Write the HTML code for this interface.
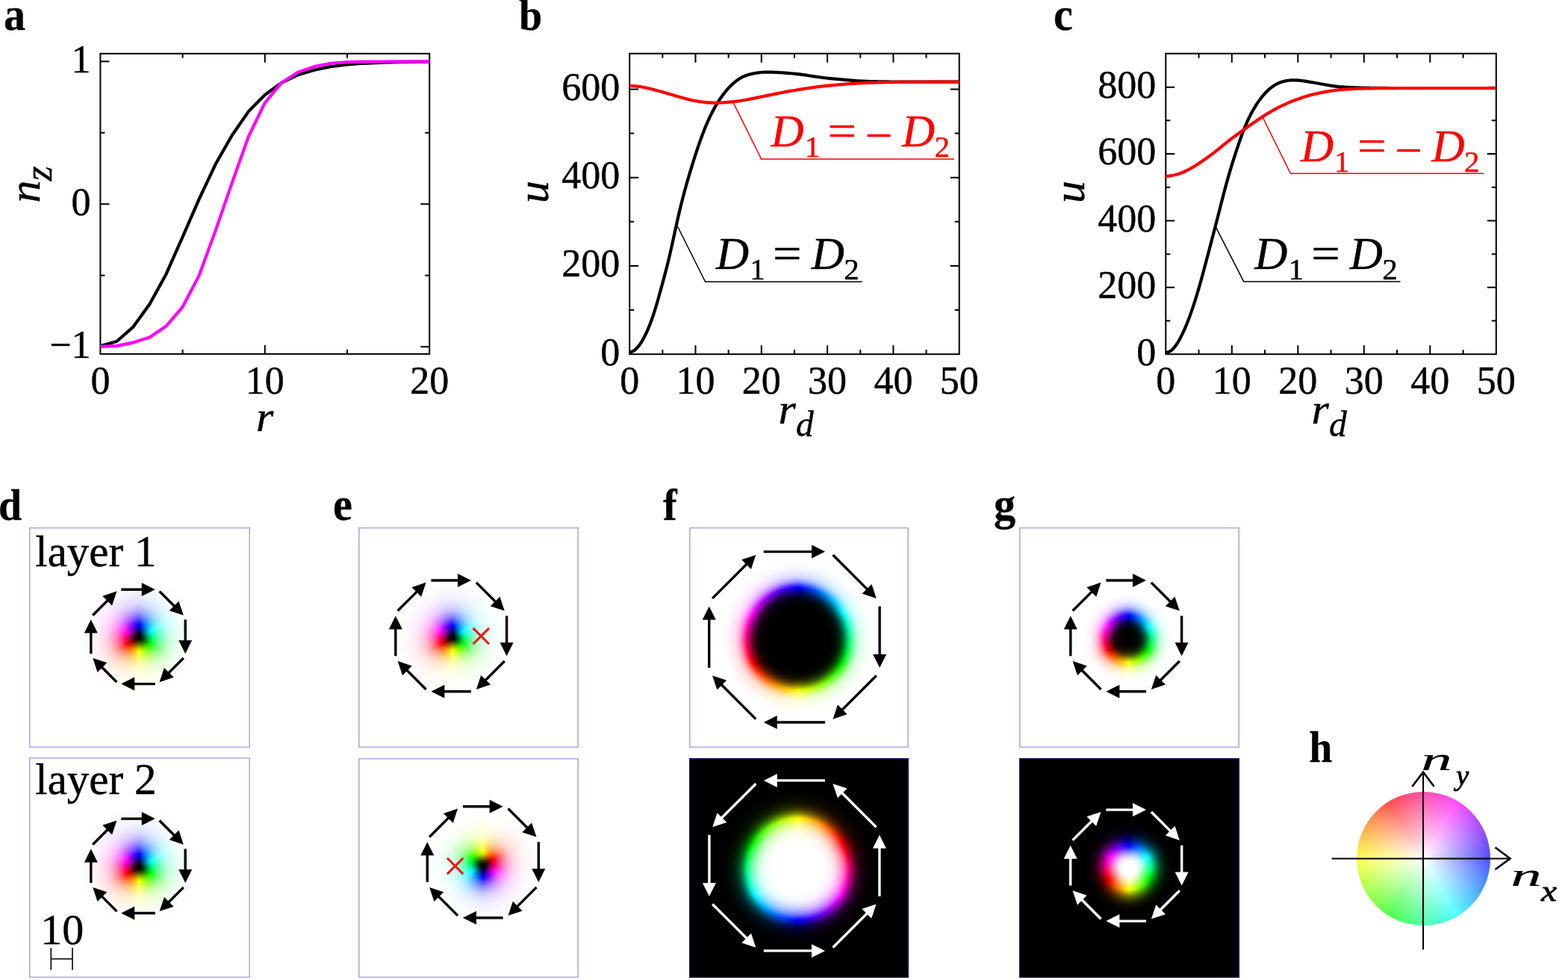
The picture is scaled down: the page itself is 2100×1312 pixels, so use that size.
<!DOCTYPE html>
<html lang="en">
<head>
<meta charset="utf-8">
<title>Figure</title>
<style>
html,body{margin:0;padding:0;background:#fff;}
body{width:2100px;height:1312px;position:relative;overflow:hidden;font-family:'Liberation Serif','DejaVu Serif',serif;}
#g div{position:absolute;}
#g .bx{overflow:hidden;}
svg{position:absolute;left:0;top:0;}
svg text{font-family:'Liberation Serif','DejaVu Serif',serif;stroke-linejoin:round;}
</style>
</head>
<body>
<div id="g">
<div class="bx" style="left:39.3px;top:706.1px;width:295.7px;height:294.6px;background:#fff"><div style="left:0;top:0;width:100%;height:100%;background:radial-gradient(circle at 147px 147.5px,rgba(0,0,0,1) 0px,rgba(0,0,0,0.95) 2.73px,rgba(0,0,0,0.8) 5.47px,rgba(0,0,0,0.61) 8.2px,rgba(0,0,0,0.42) 10.93px,rgba(0,0,0,0.24) 13.67px,rgba(0,0,0,0.08) 16.4px,rgba(255,255,255,0.06) 19.13px,rgba(255,255,255,0.19) 21.87px,rgba(255,255,255,0.31) 24.6px,rgba(255,255,255,0.41) 27.33px,rgba(255,255,255,0.51) 30.07px,rgba(255,255,255,0.59) 32.8px,rgba(255,255,255,0.66) 35.53px,rgba(255,255,255,0.73) 38.27px,rgba(255,255,255,0.78) 41px,rgba(255,255,255,0.82) 43.73px,rgba(255,255,255,0.86) 46.47px,rgba(255,255,255,0.88) 49.2px,rgba(255,255,255,0.9) 51.93px,rgba(255,255,255,0.92) 54.67px,rgba(255,255,255,0.94) 57.4px,rgba(255,255,255,0.95) 60.13px,rgba(255,255,255,0.96) 62.87px,rgba(255,255,255,0.97) 65.6px,rgba(255,255,255,0.98) 68.33px,rgba(255,255,255,0.98) 71.07px,rgba(255,255,255,0.99) 73.8px,rgba(255,255,255,0.99) 76.53px,rgba(255,255,255,1) 79.27px,rgba(255,255,255,1) 82px),conic-gradient(from 0deg at 147px 147.5px,#00f,#0ff,#0f0,#ff0,#f00,#f0f,#00f)"></div><div style="left:0;top:0;width:100%;height:100%;box-shadow:inset 0 0 0 1.6px #aca8ea"></div></div>
<div class="bx" style="left:39.3px;top:1014.4px;width:295.7px;height:294.5px;background:#fff"><div style="left:0;top:0;width:100%;height:100%;background:radial-gradient(circle at 147px 147.2px,rgba(0,0,0,1) 0px,rgba(0,0,0,0.95) 2.73px,rgba(0,0,0,0.8) 5.47px,rgba(0,0,0,0.61) 8.2px,rgba(0,0,0,0.42) 10.93px,rgba(0,0,0,0.24) 13.67px,rgba(0,0,0,0.08) 16.4px,rgba(255,255,255,0.06) 19.13px,rgba(255,255,255,0.19) 21.87px,rgba(255,255,255,0.31) 24.6px,rgba(255,255,255,0.41) 27.33px,rgba(255,255,255,0.51) 30.07px,rgba(255,255,255,0.59) 32.8px,rgba(255,255,255,0.66) 35.53px,rgba(255,255,255,0.73) 38.27px,rgba(255,255,255,0.78) 41px,rgba(255,255,255,0.82) 43.73px,rgba(255,255,255,0.86) 46.47px,rgba(255,255,255,0.88) 49.2px,rgba(255,255,255,0.9) 51.93px,rgba(255,255,255,0.92) 54.67px,rgba(255,255,255,0.94) 57.4px,rgba(255,255,255,0.95) 60.13px,rgba(255,255,255,0.96) 62.87px,rgba(255,255,255,0.97) 65.6px,rgba(255,255,255,0.98) 68.33px,rgba(255,255,255,0.98) 71.07px,rgba(255,255,255,0.99) 73.8px,rgba(255,255,255,0.99) 76.53px,rgba(255,255,255,1) 79.27px,rgba(255,255,255,1) 82px),conic-gradient(from 0deg at 147px 147.2px,#00f,#0ff,#0f0,#ff0,#f00,#f0f,#00f)"></div><div style="left:0;top:0;width:100%;height:100%;box-shadow:inset 0 0 0 1.6px #aca8ea"></div></div>
<div class="bx" style="left:480px;top:706.4px;width:295.2px;height:294.9px;background:#fff"><div style="left:0;top:0;width:100%;height:100%;background:radial-gradient(circle at 125.8px 147.8px,rgba(0,0,0,1) 0px,rgba(0,0,0,0.95) 2.54px,rgba(0,0,0,0.8) 5.08px,rgba(0,0,0,0.61) 7.63px,rgba(0,0,0,0.42) 10.17px,rgba(0,0,0,0.24) 12.71px,rgba(0,0,0,0.08) 15.25px,rgba(255,255,255,0.06) 17.79px,rgba(255,255,255,0.19) 20.34px,rgba(255,255,255,0.31) 22.88px,rgba(255,255,255,0.41) 25.42px,rgba(255,255,255,0.51) 27.96px,rgba(255,255,255,0.59) 30.5px,rgba(255,255,255,0.66) 33.05px,rgba(255,255,255,0.73) 35.59px,rgba(255,255,255,0.78) 38.13px,rgba(255,255,255,0.82) 40.67px,rgba(255,255,255,0.86) 43.21px,rgba(255,255,255,0.88) 45.76px,rgba(255,255,255,0.9) 48.3px,rgba(255,255,255,0.92) 50.84px,rgba(255,255,255,0.94) 53.38px,rgba(255,255,255,0.95) 55.92px,rgba(255,255,255,0.96) 58.47px,rgba(255,255,255,0.97) 61.01px,rgba(255,255,255,0.98) 63.55px,rgba(255,255,255,0.98) 66.09px,rgba(255,255,255,0.99) 68.63px,rgba(255,255,255,0.99) 71.18px,rgba(255,255,255,1) 73.72px,rgba(255,255,255,1) 76.26px),conic-gradient(from 0deg at 125.8px 147.8px,#00f,#0ff,#0f0,#ff0,#f00,#f0f,#00f)"></div><div style="left:0;top:0;width:100%;height:100%;box-shadow:inset 0 0 0 1.6px #aca8ea"></div></div>
<div class="bx" style="left:480.2px;top:1014.7px;width:295.2px;height:294.2px;background:#fff"><div style="left:0;top:0;width:100%;height:100%;background:radial-gradient(circle at 166.7px 143.3px,rgba(0,0,0,1) 0px,rgba(0,0,0,0.95) 2.54px,rgba(0,0,0,0.8) 5.08px,rgba(0,0,0,0.61) 7.63px,rgba(0,0,0,0.42) 10.17px,rgba(0,0,0,0.24) 12.71px,rgba(0,0,0,0.08) 15.25px,rgba(255,255,255,0.06) 17.79px,rgba(255,255,255,0.19) 20.34px,rgba(255,255,255,0.31) 22.88px,rgba(255,255,255,0.41) 25.42px,rgba(255,255,255,0.51) 27.96px,rgba(255,255,255,0.59) 30.5px,rgba(255,255,255,0.66) 33.05px,rgba(255,255,255,0.73) 35.59px,rgba(255,255,255,0.78) 38.13px,rgba(255,255,255,0.82) 40.67px,rgba(255,255,255,0.86) 43.21px,rgba(255,255,255,0.88) 45.76px,rgba(255,255,255,0.9) 48.3px,rgba(255,255,255,0.92) 50.84px,rgba(255,255,255,0.94) 53.38px,rgba(255,255,255,0.95) 55.92px,rgba(255,255,255,0.96) 58.47px,rgba(255,255,255,0.97) 61.01px,rgba(255,255,255,0.98) 63.55px,rgba(255,255,255,0.98) 66.09px,rgba(255,255,255,0.99) 68.63px,rgba(255,255,255,0.99) 71.18px,rgba(255,255,255,1) 73.72px,rgba(255,255,255,1) 76.26px),conic-gradient(from 180deg at 166.7px 143.3px,#00f,#0ff,#0f0,#ff0,#f00,#f0f,#00f)"></div><div style="left:0;top:0;width:100%;height:100%;box-shadow:inset 0 0 0 1.6px #aca8ea"></div></div>
<div class="bx" style="left:923px;top:706.1px;width:293.7px;height:294.9px;background:#fff"><div style="left:0;top:0;width:100%;height:100%;background:radial-gradient(circle at 145.6px 149.1px,rgba(0,0,0,1) 0px,rgba(0,0,0,1) 3.6px,rgba(0,0,0,1) 7.2px,rgba(0,0,0,1) 10.8px,rgba(0,0,0,1) 14.4px,rgba(0,0,0,1) 18px,rgba(0,0,0,1) 21.6px,rgba(0,0,0,1) 25.2px,rgba(0,0,0,1) 28.8px,rgba(0,0,0,1) 32.4px,rgba(0,0,0,1) 36px,rgba(0,0,0,1) 39.6px,rgba(0,0,0,1) 43.2px,rgba(0,0,0,0.98) 46.8px,rgba(0,0,0,0.95) 50.4px,rgba(0,0,0,0.89) 54px,rgba(0,0,0,0.77) 57.6px,rgba(0,0,0,0.58) 61.2px,rgba(0,0,0,0.33) 64.8px,rgba(0,0,0,0.05) 68.4px,rgba(255,255,255,0.24) 72px,rgba(255,255,255,0.52) 75.6px,rgba(255,255,255,0.71) 79.2px,rgba(255,255,255,0.83) 82.8px,rgba(255,255,255,0.89) 86.4px,rgba(255,255,255,0.93) 90px,rgba(255,255,255,0.96) 93.6px,rgba(255,255,255,0.98) 97.2px,rgba(255,255,255,0.99) 100.8px,rgba(255,255,255,1) 104.4px,rgba(255,255,255,1) 108px),conic-gradient(from 0deg at 145.6px 149.1px,#00f,#0ff,#0f0,#ff0,#f00,#f0f,#00f)"></div><div style="left:0;top:0;width:100%;height:100%;box-shadow:inset 0 0 0 1.6px #aca8ea"></div></div>
<div class="bx" style="left:923px;top:1014.7px;width:293.8px;height:294.1px;background:#000"><div style="left:0;top:0;width:100%;height:100%;background:radial-gradient(circle at 145.5px 148.3px,rgba(255,255,255,1) 0px,rgba(255,255,255,1) 3.6px,rgba(255,255,255,1) 7.2px,rgba(255,255,255,1) 10.8px,rgba(255,255,255,1) 14.4px,rgba(255,255,255,1) 18px,rgba(255,255,255,1) 21.6px,rgba(255,255,255,1) 25.2px,rgba(255,255,255,1) 28.8px,rgba(255,255,255,1) 32.4px,rgba(255,255,255,0.99) 36px,rgba(255,255,255,0.97) 39.6px,rgba(255,255,255,0.95) 43.2px,rgba(255,255,255,0.9) 46.8px,rgba(255,255,255,0.83) 50.4px,rgba(255,255,255,0.73) 54px,rgba(255,255,255,0.6) 57.6px,rgba(255,255,255,0.44) 61.2px,rgba(255,255,255,0.21) 64.8px,rgba(0,0,0,0.05) 68.4px,rgba(0,0,0,0.33) 72px,rgba(0,0,0,0.57) 75.6px,rgba(0,0,0,0.73) 79.2px,rgba(0,0,0,0.84) 82.8px,rgba(0,0,0,0.9) 86.4px,rgba(0,0,0,0.94) 90px,rgba(0,0,0,0.96) 93.6px,rgba(0,0,0,0.98) 97.2px,rgba(0,0,0,0.99) 100.8px,rgba(0,0,0,1) 104.4px,rgba(0,0,0,1) 108px),conic-gradient(from 180deg at 145.5px 148.3px,#00f,#0ff,#0f0,#ff0,#f00,#f0f,#00f)"></div><div style="left:0;top:0;width:100%;height:100%;box-shadow:inset 0 0 0 1.6px #150c52"></div></div>
<div class="bx" style="left:1364.8px;top:706.3px;width:295px;height:294.9px;background:#fff"><div style="left:0;top:0;width:100%;height:100%;background:radial-gradient(circle at 146px 149.3px,rgba(0,0,0,1) 0px,rgba(0,0,0,1) 2.07px,rgba(0,0,0,1) 4.13px,rgba(0,0,0,0.99) 6.2px,rgba(0,0,0,0.99) 8.27px,rgba(0,0,0,0.98) 10.33px,rgba(0,0,0,0.96) 12.4px,rgba(0,0,0,0.93) 14.47px,rgba(0,0,0,0.89) 16.53px,rgba(0,0,0,0.82) 18.6px,rgba(0,0,0,0.74) 20.67px,rgba(0,0,0,0.62) 22.73px,rgba(0,0,0,0.47) 24.8px,rgba(0,0,0,0.32) 26.87px,rgba(0,0,0,0.16) 28.93px,rgba(0,0,0,0.03) 31px,rgba(255,255,255,0.12) 33.07px,rgba(255,255,255,0.27) 35.13px,rgba(255,255,255,0.42) 37.2px,rgba(255,255,255,0.56) 39.27px,rgba(255,255,255,0.67) 41.33px,rgba(255,255,255,0.75) 43.4px,rgba(255,255,255,0.82) 45.47px,rgba(255,255,255,0.87) 47.53px,rgba(255,255,255,0.91) 49.6px,rgba(255,255,255,0.94) 51.67px,rgba(255,255,255,0.96) 53.73px,rgba(255,255,255,0.97) 55.8px,rgba(255,255,255,0.99) 57.87px,rgba(255,255,255,1) 59.93px,rgba(255,255,255,1) 62px),conic-gradient(from 0deg at 146px 149.3px,#00f,#0ff,#0f0,#ff0,#f00,#f0f,#00f)"></div><div style="left:0;top:0;width:100%;height:100%;box-shadow:inset 0 0 0 1.6px #aca8ea"></div></div>
<div class="bx" style="left:1365.2px;top:1014.7px;width:294.4px;height:294.1px;background:#000"><div style="left:0;top:0;width:100%;height:100%;background:radial-gradient(circle at 146.8px 146.9px,rgba(255,255,255,1) 0px,rgba(255,255,255,1) 2.07px,rgba(255,255,255,1) 4.13px,rgba(255,255,255,1) 6.2px,rgba(255,255,255,1) 8.27px,rgba(255,255,255,0.97) 10.33px,rgba(255,255,255,0.91) 12.4px,rgba(255,255,255,0.84) 14.47px,rgba(255,255,255,0.75) 16.53px,rgba(255,255,255,0.64) 18.6px,rgba(255,255,255,0.52) 20.67px,rgba(255,255,255,0.4) 22.73px,rgba(255,255,255,0.27) 24.8px,rgba(255,255,255,0.15) 26.87px,rgba(255,255,255,0.03) 28.93px,rgba(0,0,0,0.1) 31px,rgba(0,0,0,0.24) 33.07px,rgba(0,0,0,0.37) 35.13px,rgba(0,0,0,0.5) 37.2px,rgba(0,0,0,0.6) 39.27px,rgba(0,0,0,0.7) 41.33px,rgba(0,0,0,0.77) 43.4px,rgba(0,0,0,0.84) 45.47px,rgba(0,0,0,0.89) 47.53px,rgba(0,0,0,0.92) 49.6px,rgba(0,0,0,0.95) 51.67px,rgba(0,0,0,0.97) 53.73px,rgba(0,0,0,0.98) 55.8px,rgba(0,0,0,0.99) 57.87px,rgba(0,0,0,1) 59.93px,rgba(0,0,0,1) 62px),conic-gradient(from 0deg at 146.8px 146.9px,#00f,#0ff,#0f0,#ff0,#f00,#f0f,#00f)"></div><div style="left:0;top:0;width:100%;height:100%;box-shadow:inset 0 0 0 1.6px #150c52"></div></div>
<div style="left:1816.5px;top:1059.9px;width:179px;height:179px;border-radius:50%;background:radial-gradient(circle,rgba(255,255,255,1) 0,rgba(255,255,255,0) 100%),conic-gradient(from 0deg,hsl(330,100%,50%),hsl(300,100%,50%) 30deg,hsl(240,100%,50%) 90deg,hsl(180,100%,50%) 150deg,hsl(120,100%,50%) 210deg,hsl(60,100%,50%) 270deg,hsl(0,100%,50%) 330deg,hsl(330,100%,50%) 360deg)"></div>
</div>
<svg width="2100" height="1312" viewBox="0 0 2100 1312">
<defs><clipPath id="ca"><rect x="133.4" y="71.8" width="442.8" height="402.1"/></clipPath><clipPath id="cb"><rect x="839.2" y="71.7" width="446.5" height="406.5"/></clipPath><clipPath id="cc"><rect x="1557.3" y="71.7" width="447.5" height="406.5"/></clipPath></defs>
<rect x="134.4" y="71.8" width="440.8" height="402.1" fill="none" stroke="#000" stroke-width="2.0"/>
<path d="M354.8 473.9v-12M354.8 71.8v12M244.6 473.9v-6M244.6 71.8v6M465 473.9v-6M465 71.8v6M134.4 82.3h12M575.2 82.3h-12M134.4 273.3h12M575.2 273.3h-12M134.4 464.3h12M575.2 464.3h-12M134.4 177.8h6M575.2 177.8h-6M134.4 368.8h6M575.2 368.8h-6" fill="none" stroke="#000" stroke-width="2.0"/>
<path d="M134.4 463.15L156.44 457.04L178.48 437.56L200.52 407L222.56 366.89L244.6 317.04L266.64 266.62L288.68 219.82L310.72 181.24L332.76 149.34L354.8 126.99L376.84 110.95L398.88 100.25L420.92 93.76L442.96 89.18L465 86.5L487.04 84.78L509.08 83.83L531.12 83.26L553.16 82.87L575.2 82.68" fill="none" stroke="#000" stroke-width="4.2" stroke-linejoin="round" clip-path="url(#ca)"/>
<path d="M134.4 463.92L156.44 463.15L178.48 458.57L200.52 451.5L222.56 436.61L244.6 410.82L266.64 368.8L288.68 308.63L310.72 244.84L332.76 182.96L354.8 137.69L376.84 110.95L398.88 96.82L420.92 89.18L442.96 84.78L465 83.06L487.04 82.68L509.08 82.49L531.12 82.3L553.16 82.3L575.2 82.3" fill="none" stroke="#ff00ff" stroke-width="4.2" stroke-linejoin="round" clip-path="url(#ca)"/>
<text transform="translate(121.6 96.7)" font-size="52" text-anchor="end" fill="#000" stroke="#000" stroke-width="0.45" >1</text>
<text transform="translate(121.6 287.7)" font-size="52" text-anchor="end" fill="#000" stroke="#000" stroke-width="0.45" >0</text>
<text transform="translate(121.6 478.7)" font-size="52" text-anchor="end" fill="#000" stroke="#000" stroke-width="0.45" >−1</text>
<text transform="translate(134.4 527.2)" font-size="52" text-anchor="middle" fill="#000" stroke="#000" stroke-width="0.45" >0</text>
<text transform="translate(354.8 527.2)" font-size="52" text-anchor="middle" fill="#000" stroke="#000" stroke-width="0.45" >10</text>
<text transform="translate(575.2 527.2)" font-size="52" text-anchor="middle" fill="#000" stroke="#000" stroke-width="0.45" >20</text>
<text transform="translate(343 577.3) scale(1.03 1)" font-size="58" text-anchor="start" fill="#000" stroke="#000" stroke-width="0.45" font-style="italic">r</text>
<text transform="translate(52.6 271.5) rotate(-90)" font-size="60" text-anchor="start" fill="#000" stroke="#000" stroke-width="0.45" font-style="italic">n</text>
<text transform="translate(68.5 242.5) rotate(-90)" font-size="52" text-anchor="start" fill="#000" stroke="#000" stroke-width="0.45" font-style="italic">z</text>
<rect x="843.2" y="71.7" width="441.5" height="402.5" fill="none" stroke="#000" stroke-width="2.0"/>
<path d="M931.5 474.2v-12M931.5 71.7v12M1019.8 474.2v-12M1019.8 71.7v12M1108.1 474.2v-12M1108.1 71.7v12M1196.4 474.2v-12M1196.4 71.7v12M887.35 474.2v-6M887.35 71.7v6M975.65 474.2v-6M975.65 71.7v6M1063.95 474.2v-6M1063.95 71.7v6M1152.25 474.2v-6M1152.25 71.7v6M1240.55 474.2v-6M1240.55 71.7v6M843.2 355.96h12M1284.7 355.96h-12M843.2 237.72h12M1284.7 237.72h-12M843.2 119.48h12M1284.7 119.48h-12M843.2 415.08h6M1284.7 415.08h-6M843.2 296.84h6M1284.7 296.84h-6M843.2 178.6h6M1284.7 178.6h-6" fill="none" stroke="#000" stroke-width="2.0"/>
<path d="M843.2 471.32L845.98 470.87L848.75 469.55L851.53 467.42L854.31 464.53L857.08 460.91L859.86 456.6L862.64 451.63L865.41 446.02L868.19 439.8L870.97 432.92L873.74 425.33L876.52 416.98L879.3 407.89L882.07 398.22L884.85 388.18L887.63 377.98L890.4 367.62L893.18 356.92L895.96 345.63L898.73 333.64L901.51 321.08L904.29 308.31L907.06 295.75L909.84 283.71L912.62 272.29L915.39 261.5L918.17 251.23L920.95 241.4L923.73 231.93L926.5 222.77L929.28 213.88L932.06 205.26L934.83 196.9L937.61 188.85L940.39 181.18L943.16 173.93L945.94 167.14L948.72 160.81L951.49 154.92L954.27 149.43L957.05 144.31L959.82 139.55L962.6 135.1L965.38 130.96L968.15 127.1L970.93 123.52L973.71 120.21L976.48 117.14L979.26 114.32L982.04 111.71L984.81 109.34L987.59 107.2L990.37 105.33L993.14 103.72L995.92 102.38L998.7 101.27L1001.47 100.34L1004.25 99.54L1007.03 98.84L1009.8 98.24L1012.58 97.73L1015.36 97.32L1018.13 97L1020.91 96.77L1023.69 96.63L1026.46 96.57L1029.24 96.57L1032.02 96.62L1034.79 96.71L1037.57 96.82L1040.35 96.95L1043.12 97.1L1045.9 97.27L1048.68 97.45L1051.45 97.64L1054.23 97.83L1057.01 98.05L1059.78 98.27L1062.56 98.53L1065.34 98.8L1068.12 99.11L1070.89 99.45L1073.67 99.81L1076.45 100.2L1079.22 100.61L1082 101.03L1084.78 101.46L1087.55 101.88L1090.33 102.31L1093.11 102.73L1095.88 103.13L1098.66 103.51L1101.44 103.88L1104.21 104.22L1106.99 104.53L1109.77 104.83L1112.54 105.12L1115.32 105.4L1118.1 105.67L1120.87 105.93L1123.65 106.2L1126.43 106.46L1129.2 106.71L1131.98 106.96L1134.76 107.21L1137.53 107.44L1140.31 107.66L1143.09 107.87L1145.86 108.07L1148.64 108.26L1151.42 108.43L1154.19 108.58L1156.97 108.72L1159.75 108.84L1162.52 108.95L1165.3 109.03L1168.08 109.1L1170.85 109.16L1173.63 109.22L1176.41 109.26L1179.18 109.3L1181.96 109.34L1184.74 109.38L1187.51 109.42L1190.29 109.45L1193.07 109.48L1195.84 109.51L1198.62 109.54L1201.4 109.56L1204.17 109.59L1206.95 109.61L1209.73 109.62L1212.51 109.64L1215.28 109.65L1218.06 109.65L1220.84 109.66L1223.61 109.66L1226.39 109.66L1229.17 109.67L1231.94 109.67L1234.72 109.67L1237.5 109.67L1240.27 109.67L1243.05 109.67L1245.83 109.67L1248.6 109.67L1251.38 109.67L1254.16 109.67L1256.93 109.67L1259.71 109.67L1262.49 109.67L1265.26 109.67L1268.04 109.67L1270.82 109.67L1273.59 109.67L1276.37 109.67L1279.15 109.67L1281.92 109.67L1284.7 109.67" fill="none" stroke="#000" stroke-width="4.2" stroke-linejoin="round" clip-path="url(#cb)"/>
<path d="M843.2 114.97L845.98 115.01L848.75 115.13L851.53 115.33L854.31 115.62L857.08 115.99L859.86 116.45L862.64 116.98L865.41 117.57L868.19 118.21L870.97 118.88L873.74 119.56L876.52 120.27L879.3 120.98L882.07 121.72L884.85 122.49L887.63 123.27L890.4 124.07L893.18 124.89L895.96 125.71L898.73 126.53L901.51 127.34L904.29 128.15L907.06 128.95L909.84 129.73L912.62 130.52L915.39 131.3L918.17 132.06L920.95 132.8L923.73 133.49L926.5 134.14L929.28 134.72L932.06 135.23L934.83 135.69L937.61 136.09L940.39 136.46L943.16 136.78L945.94 137.06L948.72 137.3L951.49 137.47L954.27 137.59L957.05 137.65L959.82 137.64L962.6 137.58L965.38 137.48L968.15 137.33L970.93 137.15L973.71 136.94L976.48 136.71L979.26 136.46L982.04 136.18L984.81 135.88L987.59 135.54L990.37 135.17L993.14 134.75L995.92 134.3L998.7 133.8L1001.47 133.28L1004.25 132.73L1007.03 132.16L1009.8 131.58L1012.58 131L1015.36 130.42L1018.13 129.84L1020.91 129.27L1023.69 128.7L1026.46 128.14L1029.24 127.59L1032.02 127.03L1034.79 126.47L1037.57 125.91L1040.35 125.34L1043.12 124.79L1045.9 124.24L1048.68 123.7L1051.45 123.17L1054.23 122.66L1057.01 122.16L1059.78 121.68L1062.56 121.21L1065.34 120.74L1068.12 120.28L1070.89 119.83L1073.67 119.38L1076.45 118.94L1079.22 118.5L1082 118.08L1084.78 117.67L1087.55 117.27L1090.33 116.88L1093.11 116.51L1095.88 116.15L1098.66 115.81L1101.44 115.49L1104.21 115.18L1106.99 114.89L1109.77 114.62L1112.54 114.35L1115.32 114.09L1118.1 113.84L1120.87 113.59L1123.65 113.34L1126.43 113.11L1129.2 112.88L1131.98 112.65L1134.76 112.43L1137.53 112.22L1140.31 112.02L1143.09 111.83L1145.86 111.65L1148.64 111.48L1151.42 111.32L1154.19 111.18L1156.97 111.04L1159.75 110.92L1162.52 110.82L1165.3 110.72L1168.08 110.64L1170.85 110.56L1173.63 110.49L1176.41 110.43L1179.18 110.36L1181.96 110.31L1184.74 110.25L1187.51 110.2L1190.29 110.15L1193.07 110.1L1195.84 110.06L1198.62 110.01L1201.4 109.98L1204.17 109.94L1206.95 109.91L1209.73 109.88L1212.51 109.86L1215.28 109.83L1218.06 109.82L1220.84 109.8L1223.61 109.79L1226.39 109.77L1229.17 109.76L1231.94 109.76L1234.72 109.75L1237.5 109.74L1240.27 109.73L1243.05 109.72L1245.83 109.72L1248.6 109.71L1251.38 109.7L1254.16 109.7L1256.93 109.69L1259.71 109.69L1262.49 109.68L1265.26 109.68L1268.04 109.68L1270.82 109.67L1273.59 109.67L1276.37 109.67L1279.15 109.67L1281.92 109.67L1284.7 109.67" fill="none" stroke="#ff0000" stroke-width="4.2" stroke-linejoin="round" clip-path="url(#cb)"/>
<text transform="translate(830.2 488.6)" font-size="52" text-anchor="end" fill="#000" stroke="#000" stroke-width="0.45" >0</text>
<text transform="translate(830.2 370.36)" font-size="52" text-anchor="end" fill="#000" stroke="#000" stroke-width="0.45" >200</text>
<text transform="translate(830.2 252.12)" font-size="52" text-anchor="end" fill="#000" stroke="#000" stroke-width="0.45" >400</text>
<text transform="translate(830.2 133.88)" font-size="52" text-anchor="end" fill="#000" stroke="#000" stroke-width="0.45" >600</text>
<text transform="translate(843.2 527.4)" font-size="52" text-anchor="middle" fill="#000" stroke="#000" stroke-width="0.45" >0</text>
<text transform="translate(931.5 527.4)" font-size="52" text-anchor="middle" fill="#000" stroke="#000" stroke-width="0.45" >10</text>
<text transform="translate(1019.8 527.4)" font-size="52" text-anchor="middle" fill="#000" stroke="#000" stroke-width="0.45" >20</text>
<text transform="translate(1108.1 527.4)" font-size="52" text-anchor="middle" fill="#000" stroke="#000" stroke-width="0.45" >30</text>
<text transform="translate(1196.4 527.4)" font-size="52" text-anchor="middle" fill="#000" stroke="#000" stroke-width="0.45" >40</text>
<text transform="translate(1284.7 527.4)" font-size="52" text-anchor="middle" fill="#000" stroke="#000" stroke-width="0.45" >50</text>
<text transform="translate(734.3 272) rotate(-90)" font-size="60" text-anchor="start" fill="#000" stroke="#000" stroke-width="0.45" font-style="italic">u</text>
<text transform="translate(1042.5 567) scale(1.03 1)" font-size="58" text-anchor="start" fill="#000" stroke="#000" stroke-width="0.45" font-style="italic">r</text>
<text transform="translate(1066 583.5)" font-size="47.5" text-anchor="start" fill="#000" stroke="#000" stroke-width="0.45" font-style="italic">d</text>
<path d="M982.3 137.8L1019.6 212.9H1278" fill="none" stroke="#ff0000" stroke-width="1.5"/>
<path d="M907.4 303L944.6 377.3H1154.7" fill="none" stroke="#000" stroke-width="1.5"/>
<text transform="translate(1032.55 195.5)" font-size="61" text-anchor="start" fill="#ff0000" stroke="#ff0000" stroke-width="0.45" font-style="italic">D</text>
<text transform="translate(1077.7 209.8)" font-size="41" text-anchor="start" fill="#ff0000" stroke="#ff0000" stroke-width="0.45" >1</text>
<text transform="translate(1108.6 195.5) scale(1.12 1)" font-size="61" text-anchor="start" fill="#ff0000" stroke="#ff0000" stroke-width="0.45" >=</text>
<text transform="translate(1162.32 195.5) scale(0.97 1)" font-size="61" text-anchor="start" fill="#ff0000" stroke="#ff0000" stroke-width="0.45" >–</text>
<text transform="translate(1208.05 195.5)" font-size="61" text-anchor="start" fill="#ff0000" stroke="#ff0000" stroke-width="0.45" font-style="italic">D</text>
<text transform="translate(1251.53 209.8)" font-size="41" text-anchor="start" fill="#ff0000" stroke="#ff0000" stroke-width="0.45" >2</text>
<text transform="translate(959.05 359.8)" font-size="61" text-anchor="start" fill="#000" stroke="#000" stroke-width="0.45" font-style="italic">D</text>
<text transform="translate(1004.2 374.1)" font-size="41" text-anchor="start" fill="#000" stroke="#000" stroke-width="0.45" >1</text>
<text transform="translate(1035.1 359.8) scale(1.12 1)" font-size="61" text-anchor="start" fill="#000" stroke="#000" stroke-width="0.45" >=</text>
<text transform="translate(1086.65 359.8)" font-size="61" text-anchor="start" fill="#000" stroke="#000" stroke-width="0.45" font-style="italic">D</text>
<text transform="translate(1130.13 374.1)" font-size="41" text-anchor="start" fill="#000" stroke="#000" stroke-width="0.45" >2</text>
<rect x="1561.3" y="71.7" width="442.5" height="402.5" fill="none" stroke="#000" stroke-width="2.0"/>
<path d="M1649.8 474.2v-12M1649.8 71.7v12M1738.3 474.2v-12M1738.3 71.7v12M1826.8 474.2v-12M1826.8 71.7v12M1915.3 474.2v-12M1915.3 71.7v12M1605.55 474.2v-6M1605.55 71.7v6M1694.05 474.2v-6M1694.05 71.7v6M1782.55 474.2v-6M1782.55 71.7v6M1871.05 474.2v-6M1871.05 71.7v6M1959.55 474.2v-6M1959.55 71.7v6M1561.3 384.82h12M2003.8 384.82h-12M1561.3 295.44h12M2003.8 295.44h-12M1561.3 206.06h12M2003.8 206.06h-12M1561.3 116.68h12M2003.8 116.68h-12M1561.3 429.51h6M2003.8 429.51h-6M1561.3 340.13h6M2003.8 340.13h-6M1561.3 250.75h6M2003.8 250.75h-6M1561.3 161.37h6M2003.8 161.37h-6" fill="none" stroke="#000" stroke-width="2.0"/>
<path d="M1561.3 472.07L1564.08 471.65L1566.87 470.41L1569.65 468.34L1572.43 465.48L1575.22 461.86L1578 457.56L1580.78 452.64L1583.56 447.14L1586.35 441.1L1589.13 434.53L1591.91 427.45L1594.7 419.87L1597.48 411.82L1600.26 403.31L1603.05 394.36L1605.83 384.97L1608.61 375.17L1611.39 365.01L1614.18 354.58L1616.96 344.01L1619.74 333.42L1622.53 322.86L1625.31 312.27L1628.09 301.59L1630.88 290.76L1633.66 279.81L1636.44 268.87L1639.22 258.09L1642.01 247.64L1644.79 237.63L1647.57 228.09L1650.36 218.99L1653.14 210.24L1655.92 201.72L1658.71 193.4L1661.49 185.35L1664.27 177.7L1667.05 170.58L1669.84 164.05L1672.62 158.08L1675.4 152.59L1678.19 147.52L1680.97 142.81L1683.75 138.43L1686.54 134.39L1689.32 130.68L1692.1 127.29L1694.88 124.2L1697.67 121.42L1700.45 118.92L1703.23 116.69L1706.02 114.73L1708.8 113.04L1711.58 111.6L1714.37 110.4L1717.15 109.44L1719.93 108.69L1722.72 108.12L1725.5 107.73L1728.28 107.47L1731.06 107.34L1733.85 107.31L1736.63 107.4L1739.41 107.59L1742.2 107.88L1744.98 108.24L1747.76 108.66L1750.55 109.11L1753.33 109.58L1756.11 110.06L1758.89 110.54L1761.68 111.03L1764.46 111.52L1767.24 112.01L1770.03 112.52L1772.81 113.02L1775.59 113.51L1778.38 114L1781.16 114.47L1783.94 114.92L1786.72 115.32L1789.51 115.67L1792.29 115.97L1795.07 116.22L1797.86 116.42L1800.64 116.6L1803.42 116.76L1806.21 116.9L1808.99 117.03L1811.77 117.14L1814.55 117.24L1817.34 117.33L1820.12 117.41L1822.9 117.48L1825.69 117.54L1828.47 117.59L1831.25 117.64L1834.04 117.69L1836.82 117.73L1839.6 117.77L1842.38 117.8L1845.17 117.84L1847.95 117.87L1850.73 117.9L1853.52 117.93L1856.3 117.95L1859.08 117.97L1861.87 117.99L1864.65 118L1867.43 118.01L1870.22 118.01L1873 118.02L1875.78 118.02L1878.56 118.02L1881.35 118.02L1884.13 118.02L1886.91 118.02L1889.7 118.02L1892.48 118.02L1895.26 118.02L1898.05 118.02L1900.83 118.02L1903.61 118.02L1906.39 118.02L1909.18 118.02L1911.96 118.02L1914.74 118.02L1917.53 118.02L1920.31 118.02L1923.09 118.02L1925.88 118.02L1928.66 118.02L1931.44 118.02L1934.22 118.02L1937.01 118.02L1939.79 118.02L1942.57 118.02L1945.36 118.02L1948.14 118.02L1950.92 118.02L1953.71 118.02L1956.49 118.02L1959.27 118.02L1962.05 118.02L1964.84 118.02L1967.62 118.02L1970.4 118.02L1973.19 118.02L1975.97 118.02L1978.75 118.02L1981.54 118.02L1984.32 118.02L1987.1 118.02L1989.88 118.02L1992.67 118.02L1995.45 118.02L1998.23 118.02L2001.02 118.02L2003.8 118.02" fill="none" stroke="#000" stroke-width="4.2" stroke-linejoin="round" clip-path="url(#cc)"/>
<path d="M1561.3 235.81L1564.08 235.72L1566.87 235.44L1569.65 235.02L1572.43 234.45L1575.22 233.76L1578 232.95L1580.78 232.02L1583.56 230.96L1586.35 229.76L1589.13 228.44L1591.91 227.01L1594.7 225.5L1597.48 223.89L1600.26 222.21L1603.05 220.45L1605.83 218.63L1608.61 216.76L1611.39 214.85L1614.18 212.91L1616.96 210.95L1619.74 208.96L1622.53 206.92L1625.31 204.84L1628.09 202.69L1630.88 200.49L1633.66 198.22L1636.44 195.93L1639.22 193.63L1642.01 191.36L1644.79 189.14L1647.57 186.97L1650.36 184.85L1653.14 182.77L1655.92 180.72L1658.71 178.7L1661.49 176.69L1664.27 174.68L1667.05 172.69L1669.84 170.7L1672.62 168.73L1675.4 166.77L1678.19 164.83L1680.97 162.92L1683.75 161.03L1686.54 159.18L1689.32 157.36L1692.1 155.56L1694.88 153.8L1697.67 152.07L1700.45 150.39L1703.23 148.75L1706.02 147.16L1708.8 145.63L1711.58 144.16L1714.37 142.75L1717.15 141.39L1719.93 140.07L1722.72 138.81L1725.5 137.59L1728.28 136.42L1731.06 135.3L1733.85 134.22L1736.63 133.18L1739.41 132.18L1742.2 131.22L1744.98 130.29L1747.76 129.41L1750.55 128.58L1753.33 127.79L1756.11 127.05L1758.89 126.36L1761.68 125.71L1764.46 125.09L1767.24 124.51L1770.03 123.95L1772.81 123.42L1775.59 122.9L1778.38 122.41L1781.16 121.93L1783.94 121.48L1786.72 121.07L1789.51 120.71L1792.29 120.39L1795.07 120.12L1797.86 119.88L1800.64 119.67L1803.42 119.48L1806.21 119.31L1808.99 119.15L1811.77 119.01L1814.55 118.88L1817.34 118.77L1820.12 118.67L1822.9 118.59L1825.69 118.52L1828.47 118.45L1831.25 118.4L1834.04 118.35L1836.82 118.31L1839.6 118.27L1842.38 118.23L1845.17 118.2L1847.95 118.17L1850.73 118.14L1853.52 118.11L1856.3 118.09L1859.08 118.07L1861.87 118.05L1864.65 118.04L1867.43 118.03L1870.22 118.03L1873 118.02L1875.78 118.02L1878.56 118.02L1881.35 118.02L1884.13 118.02L1886.91 118.02L1889.7 118.02L1892.48 118.02L1895.26 118.02L1898.05 118.02L1900.83 118.02L1903.61 118.02L1906.39 118.02L1909.18 118.02L1911.96 118.02L1914.74 118.02L1917.53 118.02L1920.31 118.02L1923.09 118.02L1925.88 118.02L1928.66 118.02L1931.44 118.02L1934.22 118.02L1937.01 118.02L1939.79 118.02L1942.57 118.02L1945.36 118.02L1948.14 118.02L1950.92 118.02L1953.71 118.02L1956.49 118.02L1959.27 118.02L1962.05 118.02L1964.84 118.02L1967.62 118.02L1970.4 118.02L1973.19 118.02L1975.97 118.02L1978.75 118.02L1981.54 118.02L1984.32 118.02L1987.1 118.02L1989.88 118.02L1992.67 118.02L1995.45 118.02L1998.23 118.02L2001.02 118.02L2003.8 118.02" fill="none" stroke="#ff0000" stroke-width="4.2" stroke-linejoin="round" clip-path="url(#cc)"/>
<text transform="translate(1548.2 488.6)" font-size="52" text-anchor="end" fill="#000" stroke="#000" stroke-width="0.45" >0</text>
<text transform="translate(1548.2 399.22)" font-size="52" text-anchor="end" fill="#000" stroke="#000" stroke-width="0.45" >200</text>
<text transform="translate(1548.2 309.84)" font-size="52" text-anchor="end" fill="#000" stroke="#000" stroke-width="0.45" >400</text>
<text transform="translate(1548.2 220.46)" font-size="52" text-anchor="end" fill="#000" stroke="#000" stroke-width="0.45" >600</text>
<text transform="translate(1548.2 131.08)" font-size="52" text-anchor="end" fill="#000" stroke="#000" stroke-width="0.45" >800</text>
<text transform="translate(1561.3 527.4)" font-size="52" text-anchor="middle" fill="#000" stroke="#000" stroke-width="0.45" >0</text>
<text transform="translate(1649.8 527.4)" font-size="52" text-anchor="middle" fill="#000" stroke="#000" stroke-width="0.45" >10</text>
<text transform="translate(1738.3 527.4)" font-size="52" text-anchor="middle" fill="#000" stroke="#000" stroke-width="0.45" >20</text>
<text transform="translate(1826.8 527.4)" font-size="52" text-anchor="middle" fill="#000" stroke="#000" stroke-width="0.45" >30</text>
<text transform="translate(1915.3 527.4)" font-size="52" text-anchor="middle" fill="#000" stroke="#000" stroke-width="0.45" >40</text>
<text transform="translate(2003.8 527.4)" font-size="52" text-anchor="middle" fill="#000" stroke="#000" stroke-width="0.45" >50</text>
<text transform="translate(1452 272) rotate(-90)" font-size="60" text-anchor="start" fill="#000" stroke="#000" stroke-width="0.45" font-style="italic">u</text>
<text transform="translate(1756.5 567) scale(1.03 1)" font-size="58" text-anchor="start" fill="#000" stroke="#000" stroke-width="0.45" font-style="italic">r</text>
<text transform="translate(1780 583.5)" font-size="47.5" text-anchor="start" fill="#000" stroke="#000" stroke-width="0.45" font-style="italic">d</text>
<path d="M1691.4 157.6L1728.4 232.3H1987.3" fill="none" stroke="#ff0000" stroke-width="1.5"/>
<path d="M1628.1 303.6L1665.7 376.9H1875.5" fill="none" stroke="#000" stroke-width="1.5"/>
<text transform="translate(1741.95 215.6)" font-size="61" text-anchor="start" fill="#ff0000" stroke="#ff0000" stroke-width="0.45" font-style="italic">D</text>
<text transform="translate(1787.1 229.9)" font-size="41" text-anchor="start" fill="#ff0000" stroke="#ff0000" stroke-width="0.45" >1</text>
<text transform="translate(1818 215.6) scale(1.12 1)" font-size="61" text-anchor="start" fill="#ff0000" stroke="#ff0000" stroke-width="0.45" >=</text>
<text transform="translate(1871.72 215.6) scale(0.97 1)" font-size="61" text-anchor="start" fill="#ff0000" stroke="#ff0000" stroke-width="0.45" >–</text>
<text transform="translate(1917.45 215.6)" font-size="61" text-anchor="start" fill="#ff0000" stroke="#ff0000" stroke-width="0.45" font-style="italic">D</text>
<text transform="translate(1960.93 229.9)" font-size="41" text-anchor="start" fill="#ff0000" stroke="#ff0000" stroke-width="0.45" >2</text>
<text transform="translate(1680.25 359.6)" font-size="61" text-anchor="start" fill="#000" stroke="#000" stroke-width="0.45" font-style="italic">D</text>
<text transform="translate(1725.4 373.9)" font-size="41" text-anchor="start" fill="#000" stroke="#000" stroke-width="0.45" >1</text>
<text transform="translate(1756.3 359.6) scale(1.12 1)" font-size="61" text-anchor="start" fill="#000" stroke="#000" stroke-width="0.45" >=</text>
<text transform="translate(1807.85 359.6)" font-size="61" text-anchor="start" fill="#000" stroke="#000" stroke-width="0.45" font-style="italic">D</text>
<text transform="translate(1851.33 373.9)" font-size="41" text-anchor="start" fill="#000" stroke="#000" stroke-width="0.45" >2</text>
<text transform="translate(4.9 39.9) scale(1 1.054)" font-size="58.3" text-anchor="start" fill="#000" stroke="#000" stroke-width="0.3" font-weight="bold">a</text>
<text transform="translate(695 40.3) scale(0.96 1)" font-size="58.3" text-anchor="start" fill="#000" stroke="#000" stroke-width="0.3" font-weight="bold">b</text>
<text transform="translate(1411 39.9) scale(1 1.054)" font-size="58.3" text-anchor="start" fill="#000" stroke="#000" stroke-width="0.3" font-weight="bold">c</text>
<text transform="translate(-2 696) scale(0.96 1)" font-size="58.3" text-anchor="start" fill="#000" stroke="#000" stroke-width="0.3" font-weight="bold">d</text>
<text transform="translate(446 696) scale(1 1.054)" font-size="58.3" text-anchor="start" fill="#000" stroke="#000" stroke-width="0.3" font-weight="bold">e</text>
<text transform="translate(888 696) scale(0.96 1)" font-size="58.3" text-anchor="start" fill="#000" stroke="#000" stroke-width="0.3" font-weight="bold">f</text>
<text transform="translate(1331 696) scale(1 1.054)" font-size="58.3" text-anchor="start" fill="#000" stroke="#000" stroke-width="0.3" font-weight="bold">g</text>
<text transform="translate(1753.2 1020.3) scale(0.96 1)" font-size="58.3" text-anchor="start" fill="#000" stroke="#000" stroke-width="0.3" font-weight="bold">h</text>
<path d="M162.22 789.2L190.78 789.2M213.58 791.61L233.77 811.79M248.2 829.62L248.2 858.18M245.79 880.98L225.61 901.17M207.78 915.6L179.22 915.6M156.42 913.19L136.23 893.01M121.8 875.18L121.8 846.62M124.21 823.82L144.39 803.63" fill="none" stroke="#000" stroke-width="3.4"/>
<path d="M207.78 789.2L189.78 798.2L189.78 780.2ZM245.79 823.82L226.7 817.45L239.43 804.72ZM248.2 875.18L239.2 857.18L257.2 857.18ZM213.58 913.19L219.95 894.1L232.68 906.83ZM162.22 915.6L180.22 906.6L180.22 924.6ZM124.21 880.98L143.3 887.35L130.57 900.08ZM121.8 829.62L130.8 847.62L112.8 847.62ZM156.42 791.61L150.05 810.7L137.32 797.97Z" fill="#000"/>
<path d="M162.22 1096.1L190.78 1096.1M213.58 1098.51L233.77 1118.69M248.2 1136.52L248.2 1165.08M245.79 1187.88L225.61 1208.07M207.78 1222.5L179.22 1222.5M156.42 1220.09L136.23 1199.91M121.8 1182.08L121.8 1153.52M124.21 1130.72L144.39 1110.53" fill="none" stroke="#000" stroke-width="3.4"/>
<path d="M207.78 1096.1L189.78 1105.1L189.78 1087.1ZM245.79 1130.72L226.7 1124.35L239.43 1111.62ZM248.2 1182.08L239.2 1164.08L257.2 1164.08ZM213.58 1220.09L219.95 1201L232.68 1213.73ZM162.22 1222.5L180.22 1213.5L180.22 1231.5ZM124.21 1187.88L143.3 1194.25L130.57 1206.98ZM121.8 1136.52L130.8 1154.52L112.8 1154.52ZM156.42 1098.51L150.05 1117.6L137.32 1104.87Z" fill="#000"/>
<path d="M577.39 777L614.01 777M637.85 779.83L663.75 805.73M678.6 824.59L678.6 861.21M675.77 885.05L649.87 910.95M631.01 925.8L594.39 925.8M570.55 922.97L544.65 897.07M529.8 878.21L529.8 841.59M532.63 817.75L558.53 791.85" fill="none" stroke="#000" stroke-width="3.4"/>
<path d="M631.01 777L613.01 786L613.01 768ZM675.77 817.75L656.68 811.39L669.4 798.66ZM678.6 878.21L669.6 860.21L687.6 860.21ZM637.85 922.97L644.21 903.88L656.94 916.6ZM577.39 925.8L595.39 916.8L595.39 934.8ZM532.63 885.05L551.72 891.41L539 904.14ZM529.8 824.59L538.8 842.59L520.8 842.59ZM570.55 779.83L564.19 798.92L551.46 786.2Z" fill="#000"/>
<path d="M619.95 1079.7L656.65 1079.7M680.5 1082.54L706.44 1108.48M721.3 1127.35L721.3 1164.05M718.46 1187.9L692.52 1213.84M673.65 1228.7L636.95 1228.7M613.1 1225.86L587.16 1199.92M572.3 1181.05L572.3 1144.35M575.14 1120.5L601.08 1094.56" fill="none" stroke="#000" stroke-width="3.4"/>
<path d="M673.65 1079.7L655.65 1088.7L655.65 1070.7ZM718.46 1120.5L699.37 1114.14L712.1 1101.41ZM721.3 1181.05L712.3 1163.05L730.3 1163.05ZM680.5 1225.86L686.86 1206.77L699.59 1219.5ZM619.95 1228.7L637.95 1219.7L637.95 1237.7ZM575.14 1187.9L594.23 1194.26L581.5 1206.99ZM572.3 1127.35L581.3 1145.35L563.3 1145.35ZM613.1 1082.54L606.74 1101.63L594.01 1088.9Z" fill="#000"/>
<path d="M1022.75 738.6L1088.05 738.6M1115.55 742.95L1161.73 789.13M1178.1 811.65L1178.1 876.95M1173.75 904.45L1127.57 950.63M1105.05 967L1039.75 967M1012.25 962.65L966.07 916.47M949.7 893.95L949.7 828.65M954.05 801.15L1000.23 754.97" fill="none" stroke="#000" stroke-width="3.4"/>
<path d="M1105.05 738.6L1087.05 747.6L1087.05 729.6ZM1173.75 801.15L1154.66 794.78L1167.39 782.06ZM1178.1 893.95L1169.1 875.95L1187.1 875.95ZM1115.55 962.65L1121.92 943.56L1134.64 956.29ZM1022.75 967L1040.75 958L1040.75 976ZM954.05 904.45L973.14 910.82L960.41 923.54ZM949.7 811.65L958.7 829.65L940.7 829.65ZM1012.25 742.95L1005.88 762.04L993.16 749.31Z" fill="#000"/>
<path d="M1104.98 1044.9L1039.82 1044.9M1173.56 1107.34L1127.48 1061.26M1177.9 1199.98L1177.9 1134.82M1115.46 1268.56L1161.54 1222.48M1022.82 1272.9L1087.98 1272.9M954.24 1210.46L1000.32 1256.54M949.9 1117.82L949.9 1182.98M1012.34 1049.24L966.26 1095.32" fill="none" stroke="#fff" stroke-width="3.4"/>
<path d="M1022.82 1044.9L1040.82 1035.9L1040.82 1053.9ZM1115.46 1049.24L1134.55 1055.6L1121.82 1068.33ZM1177.9 1117.82L1186.9 1135.82L1168.9 1135.82ZM1173.56 1210.46L1167.2 1229.55L1154.47 1216.82ZM1104.98 1272.9L1086.98 1281.9L1086.98 1263.9ZM1012.34 1268.56L993.25 1262.2L1005.98 1249.47ZM949.9 1199.98L940.9 1181.98L958.9 1181.98ZM954.24 1107.34L960.6 1088.25L973.33 1100.98Z" fill="#fff"/>
<path d="M1481.39 777L1518.01 777M1541.85 779.83L1567.75 805.73M1582.6 824.59L1582.6 861.21M1579.77 885.05L1553.87 910.95M1535.01 925.8L1498.39 925.8M1474.55 922.97L1448.65 897.07M1433.8 878.21L1433.8 841.59M1436.63 817.75L1462.53 791.85" fill="none" stroke="#000" stroke-width="3.4"/>
<path d="M1535.01 777L1517.01 786L1517.01 768ZM1579.77 817.75L1560.68 811.39L1573.4 798.66ZM1582.6 878.21L1573.6 860.21L1591.6 860.21ZM1541.85 922.97L1548.21 903.88L1560.94 916.6ZM1481.39 925.8L1499.39 916.8L1499.39 934.8ZM1436.63 885.05L1455.72 891.41L1443 904.14ZM1433.8 824.59L1442.8 842.59L1424.8 842.59ZM1474.55 779.83L1468.19 798.92L1455.46 786.2Z" fill="#000"/>
<path d="M1481.35 1084.1L1518.05 1084.1M1541.9 1086.94L1567.84 1112.88M1582.7 1131.75L1582.7 1168.45M1579.86 1192.3L1553.92 1218.24M1535.05 1233.1L1498.35 1233.1M1474.5 1230.26L1448.56 1204.32M1433.7 1185.45L1433.7 1148.75M1436.54 1124.9L1462.48 1098.96" fill="none" stroke="#fff" stroke-width="3.4"/>
<path d="M1535.05 1084.1L1517.05 1093.1L1517.05 1075.1ZM1579.86 1124.9L1560.77 1118.54L1573.5 1105.81ZM1582.7 1185.45L1573.7 1167.45L1591.7 1167.45ZM1541.9 1230.26L1548.26 1211.17L1560.99 1223.9ZM1481.35 1233.1L1499.35 1224.1L1499.35 1242.1ZM1436.54 1192.3L1455.63 1198.66L1442.9 1211.39ZM1433.7 1131.75L1442.7 1149.75L1424.7 1149.75ZM1474.5 1086.94L1468.14 1106.03L1455.41 1093.3Z" fill="#fff"/>
<path d="M633.6 840.9L655 862.3M633.6 862.3L655 840.9" fill="none" stroke="#ec1313" stroke-width="3.0"/>
<path d="M598.9 1148.7L620.3 1170.1M598.9 1170.1L620.3 1148.7" fill="none" stroke="#ec1313" stroke-width="3.0"/>
<text transform="translate(47.3 757.8) scale(1 1.01)" font-size="59" text-anchor="start" fill="#000" stroke="#000" stroke-width="0.45" >layer 1</text>
<text transform="translate(47.3 1063) scale(1 1.01)" font-size="59" text-anchor="start" fill="#000" stroke="#000" stroke-width="0.45" >layer 2</text>
<text transform="translate(54.3 1264.2)" font-size="58" text-anchor="start" fill="#000" stroke="#000" stroke-width="0.45" >10</text>
<path d="M68.3 1283.7H97M68.3 1269v29.5M97 1269v29.5" fill="none" stroke="#000" stroke-width="1.6"/>
<path d="M1783.6 1149.4H2021M1906 1271.3V1036" fill="none" stroke="#000" stroke-width="2"/>
<path d="M2002.5 1134.5L2022.6 1149.4L2002.5 1164M1891.3 1053L1906 1033.6L1920.7 1053" fill="none" stroke="#000" stroke-width="2.6"/>
<text transform="translate(1903.23 1031) scale(1.66 0.87)" font-size="50" text-anchor="start" fill="#000" stroke="#000" stroke-width="0.25" font-style="italic">n</text>
<text transform="translate(1950.17 1051)" font-size="38" text-anchor="start" fill="#000" stroke="#000" stroke-width="0.9" font-style="italic">y</text>
<text transform="translate(2023.23 1186.4) scale(1.66 0.87)" font-size="50" text-anchor="start" fill="#000" stroke="#000" stroke-width="0.25" font-style="italic">n</text>
<text transform="translate(2063.96 1206) scale(1.28 1)" font-size="37" text-anchor="start" fill="#000" stroke="#000" stroke-width="0.8" font-style="italic">x</text>
</svg>
</body>
</html>
